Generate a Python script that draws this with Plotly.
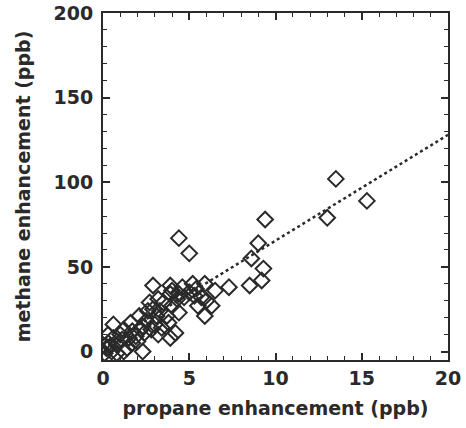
"""Methane vs propane enhancement scatter with linear fit."""

import plotly.graph_objects as go

# propane enhancement (ppb)
propane = [
    13.5, 15.3, 13.0, 9.4, 4.4, 5.0, 9.0, 8.6, 9.3, 9.2, 8.5, 7.3, 6.5, 5.9,
    5.9, 6.3, 5.5, 5.2, 5.0, 4.7, 3.9, 2.9, 3.9, 4.3, 4.4, 3.5, 2.7, 2.6,
    2.1, 3.1, 3.8, 3.2, 3.9, 4.2, 2.3, 1.7, 1.6, 1.2, 0.6, 0.3, 1.1, 1.7,
    2.3, 1.4, 0.4, 0.1, 0.8, 3.3, 4.0, 5.4, 5.7, 2.4, 2.8, 3.4, 3.7, 1.9,
    0.2, 0.5, 0.3, 0.8, 1.2, 0.6, 1.0, 1.5, 2.0, 2.5, 2.9, 3.2, 4.6, 5.3,
    6.0, 3.0, 2.2, 4.0, 4.4,
]
# methane enhancement (ppb)
methane = [
    102, 89, 79, 78, 67, 58, 64, 55, 49, 42, 39, 38, 36, 40,
    21, 27, 27, 40, 35, 32, 39, 39, 34, 31, 23, 29, 29, 24,
    21, 21, 17, 10, 8, 11, 15, 12, 17, 13, 16, 10, 7, 5,
    0, 2, 3, -1, -1, 24, 27, 37, 32, 11, 13, 14, 21, 9,
    2, 0, 5, 4, 0, 8, 10, 8, 6, 18, 25, 31, 38, 33,
    30, 16, 13, 36, 34,
]

# dotted fit line
fit_x = [0, 20]
fit_slope = 6.25
fit_intercept = 3.0

ink = "#2a2a2a"
tick_font = dict(family="DejaVu Sans", size=19, color=ink, weight="bold")
title_font = dict(family="DejaVu Sans", size=19, color=ink, weight="bold")

fig = go.Figure()
fig.add_trace(
    go.Scatter(
        x=fit_x,
        y=[fit_intercept + fit_slope * x for x in fit_x],
        mode="lines",
        line=dict(color=ink, width=2.5, dash="dot"),
        showlegend=False,
    )
)
fig.add_trace(
    go.Scatter(
        x=propane,
        y=methane,
        mode="markers",
        marker=dict(symbol="diamond-open", size=12, color=ink, line=dict(width=2, color=ink)),
        showlegend=False,
    )
)

axis_common = dict(
    showline=True,
    linecolor=ink,
    linewidth=2,
    mirror="allticks",
    ticks="inside",
    ticklen=7,
    tickwidth=1.5,
    tickcolor=ink,
    showgrid=False,
    zeroline=False,
    tickfont=tick_font,
    automargin=False,
)

fig.update_xaxes(
    range=[0, 20],
    tickvals=[0, 5, 10, 15, 20],
    minor=dict(dtick=1, ticks="inside", ticklen=4, tickcolor=ink, tickwidth=1.2),
    title=dict(text="propane enhancement (ppb)", font=title_font, standoff=14),
    **axis_common,
)
fig.update_yaxes(
    range=[-5, 200],
    tickvals=[0, 50, 100, 150, 200],
    minor=dict(dtick=10, ticks="inside", ticklen=4, tickcolor=ink, tickwidth=1.2),
    title=dict(text="methane enhancement (ppb)", font=title_font, standoff=18),
    ticklabelstandoff=4,
    **axis_common,
)

fig.update_layout(
    width=466,
    height=428,
    margin=dict(l=103, r=18, t=13, b=68),
    plot_bgcolor="white",
    paper_bgcolor="white",
)

# drop the browser's default body margin so the figure sits at the page corner
fig.write_html(
    "out.html",
    config={"displayModeBar": False},
    post_script="document.body.style.margin = '0';",
)
